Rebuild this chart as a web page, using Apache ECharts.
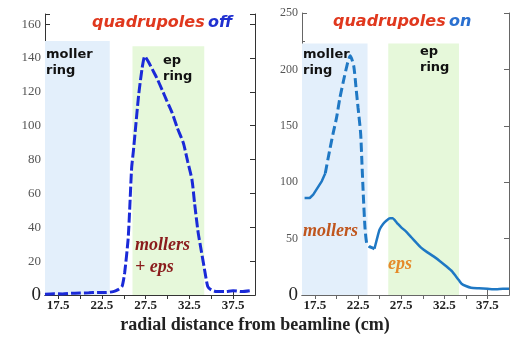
<!DOCTYPE html>
<html>
<head>
<meta charset="utf-8">
<script src="https://cdn.jsdelivr.net/npm/echarts@6/dist/echarts.min.js"></script>
<style>
  html, body { margin: 0; padding: 0; background: #fff; }
  #chart { width: 510px; height: 337px; }
</style>
</head>
<body>
<div id="chart"></div>
<script>
// x tick labels (cm) shared by both panels
const xTicks = [17.5, 22.5, 27.5, 32.5, 37.5];

// left panel: quadrupoles off
const offX = [16, 17, 18, 19, 20, 21, 22, 23, 23.8, 24.3, 24.8, 25.1, 25.5, 25.7, 25.9, 26.1, 26.3, 26.7, 27.1, 27.4, 27.8, 28.3, 28.8, 29.4, 29.9, 30.5, 31.1, 31.8, 32.3, 32.8, 33.1, 33.5, 33.9, 34.3, 34.6, 35, 35.6, 36.5, 37.5, 38.5, 39.4];
const offY = [0.5, 0.8, 0.6, 1, 1.2, 1.3, 1.5, 1.5, 2, 3, 5, 13, 33, 53, 75, 85, 96, 118, 134, 141, 138, 133, 128, 121, 115, 108, 99, 90, 79, 68, 54, 37, 25, 13, 5, 3, 2, 2, 2.5, 2, 2.5];

// right panel: quadrupoles on (split in pieces: solid / dashed / solid)
const onX1 = [16.3, 16.9, 17.3, 17.8, 18.3, 18.7];
const onY1 = [86, 86, 89, 95, 101, 108];
const onX2 = [18.7, 19.2, 19.6, 20.0, 20.4, 20.9, 21.3, 21.6, 22.0, 22.3, 22.5, 22.8, 22.95, 23.1, 23.3, 23.5, 23.8, 24.1, 24.4];
const onY2 = [108, 128, 143, 157, 175, 193, 206, 212, 203, 181, 166, 143, 117, 90, 60, 46, 43, 42, 41];
const onX3 = [24.4, 24.7, 25.0, 25.4, 25.8, 26.2, 26.5, 27.0, 27.5, 28.1, 28.7, 29.3, 29.8, 30.5, 31.3, 32.0, 32.8, 33.4, 33.9, 34.2, 34.5, 35.0, 35.6, 36.5, 37.5, 38.5, 39.3, 40];
const onY3 = [41, 50, 58, 63, 66, 68, 68, 64, 60, 56, 51, 46, 42, 38, 34, 30, 25, 21, 16, 13, 10, 8, 6.5, 6, 5.5, 5, 5.5, 5.5];

// shaded rings [x0, x1, yTop]
const offMoller = [16, 23.4, 150];
const offEp = [26.0, 34.2, 147];
const onMoller = [16, 23.6, 223];
const onEp = [26.0, 34.2, 223];

const zip = (xs, ys) => xs.map((x, i) => [x, ys[i]]);

const serif = 'Liberation Serif';
const sans = 'DejaVu Sans';

function xAxisPair(grid, color) {
  return [
    {
      gridIndex: grid, type: 'value', min: 16, max: 40, position: 'bottom',
      axisLine: { lineStyle: { color: color, width: 1 } },
      splitLine: { show: false },
      axisTick: { inside: true, length: 5, customValues: xTicks, lineStyle: { color: color } },
      axisLabel: {
        customValues: xTicks, margin: 4, color: '#222',
        fontFamily: serif, fontSize: 13, fontWeight: 'bold',
        formatter: v => v.toFixed(1)
      }
    },
    {
      gridIndex: grid, type: 'value', min: 16, max: 40, position: 'top',
      axisLine: { lineStyle: { color: color, width: 1 } },
      splitLine: { show: false },
      axisTick: { inside: true, length: 4, customValues: [17.5, 20, 22.5, 25, 27.5, 30, 32.5, 35, 37.5], lineStyle: { color: color } },
      axisLabel: { show: false }
    }
  ];
}

function yAxisPair(grid, max, interval, color, numSize) {
  return [
    {
      gridIndex: grid, type: 'value', min: 0, max: max, interval: interval, position: 'left',
      axisLine: { show: true, lineStyle: { color: color, width: 1 } },
      splitLine: { show: false },
      axisTick: { show: true, inside: true, length: 5, lineStyle: { color: color } },
      minorTick: { show: true, splitNumber: 2, length: 3, lineStyle: { color: color } },
      axisLabel: {
        margin: 4, showMaxLabel: max % interval === 0,
        formatter: v => v === 0 ? '{z|0}' : '{n|' + v + '}',
        rich: {
          n: { fontFamily: serif, fontSize: numSize, color: '#555' },
          z: { fontFamily: serif, fontSize: 19, color: '#222' }
        }
      }
    },
    {
      gridIndex: grid, type: 'value', min: 0, max: max, interval: interval, position: 'right',
      axisLine: { show: true, lineStyle: { color: color, width: 1 } },
      splitLine: { show: false },
      axisTick: { show: true, inside: true, length: 5, lineStyle: { color: color } },
      axisLabel: { show: false }
    }
  ];
}

function ringArea(r, color) {
  return [{ xAxis: r[0], yAxis: 0, itemStyle: { color: color } }, { xAxis: r[1], yAxis: r[2] }];
}

const chart = echarts.init(document.getElementById('chart'), null, { renderer: 'canvas' });

chart.setOption({
  backgroundColor: '#fff',
  animation: false,
  grid: [
    { left: 45, top: 14, width: 210, height: 281 },
    { left: 302, top: 13, right: 1, height: 282 }
  ],
  xAxis: [...xAxisPair(0, '#333'), ...xAxisPair(1, '#666')],
  yAxis: [...yAxisPair(0, 166, 20, '#333', 13), ...yAxisPair(1, 250, 50, '#666', 12)],
  series: [
    {
      name: 'off', type: 'line', xAxisIndex: 0, yAxisIndex: 0,
      data: zip(offX, offY), showSymbol: false, smooth: 0.2,
      lineStyle: { color: '#1a2ad8', width: 3, type: [10, 3] },
      markArea: {
        silent: true,
        data: [ringArea(offMoller, '#e3effb'), ringArea(offEp, '#e6f8da')]
      },
      z: 5
    },
    {
      name: 'on1', type: 'line', xAxisIndex: 2, yAxisIndex: 2,
      data: zip(onX1, onY1), showSymbol: false,
      lineStyle: { color: '#1f78c4', width: 2.5 },
      markArea: {
        silent: true,
        data: [ringArea(onMoller, '#e3effb'), ringArea(onEp, '#e6f8da')]
      },
      z: 5
    },
    {
      name: 'on2', type: 'line', xAxisIndex: 2, yAxisIndex: 2,
      data: zip(onX2, onY2), showSymbol: false, smooth: 0.2,
      lineStyle: { color: '#1f78c4', width: 3, type: [9, 4] },
      z: 5
    },
    {
      name: 'on3', type: 'line', xAxisIndex: 2, yAxisIndex: 2,
      data: zip(onX3, onY3), showSymbol: false, smooth: 0.2,
      lineStyle: { color: '#1f78c4', width: 2.5 },
      z: 5
    }
  ],
  graphic: [
    // panel titles
    { type: 'text', left: 92, top: 15, z: 10, style: {
      text: '{r|quadrupoles} {b|off}',
      rich: {
        r: { fontFamily: sans, fontSize: 16, fontStyle: 'italic', fontWeight: 'bold', fill: '#e0381e' },
        b: { fontFamily: sans, fontSize: 16, fontStyle: 'italic', fontWeight: 'bold', fill: '#2030d0' }
      } } },
    { type: 'text', left: 333, top: 14, z: 10, style: {
      text: '{r|quadrupoles} {b|on}',
      rich: {
        r: { fontFamily: sans, fontSize: 16, fontStyle: 'italic', fontWeight: 'bold', fill: '#e0381e' },
        b: { fontFamily: sans, fontSize: 16, fontStyle: 'italic', fontWeight: 'bold', fill: '#2a70d0' }
      } } },
    // ring labels
    { type: 'text', left: 46, top: 47, z: 10, style: { text: 'moller\nring', fontFamily: sans, fontWeight: 'bold', fontSize: 13, lineHeight: 16, fill: '#111' } },
    { type: 'text', left: 163, top: 53, z: 10, style: { text: 'ep\nring', fontFamily: sans, fontWeight: 'bold', fontSize: 13, lineHeight: 16, fill: '#111' } },
    { type: 'text', left: 303, top: 47, z: 10, style: { text: 'moller\nring', fontFamily: sans, fontWeight: 'bold', fontSize: 13, lineHeight: 16, fill: '#111' } },
    { type: 'text', left: 420, top: 44, z: 10, style: { text: 'ep\nring', fontFamily: sans, fontWeight: 'bold', fontSize: 13, lineHeight: 16, fill: '#111' } },
    // population labels
    { type: 'text', left: 135, top: 234, z: 10, style: { text: 'mollers\n+ eps', fontFamily: serif, fontStyle: 'italic', fontWeight: 'bold', fontSize: 18, lineHeight: 22, fill: '#8a1c1c' } },
    { type: 'text', left: 303, top: 222, z: 10, style: { text: 'mollers', fontFamily: serif, fontStyle: 'italic', fontWeight: 'bold', fontSize: 18, fill: '#c0561e' } },
    { type: 'text', left: 388, top: 255, z: 10, style: { text: 'eps', fontFamily: serif, fontStyle: 'italic', fontWeight: 'bold', fontSize: 18, fill: '#e58a2a' } },
    // shared x title
    { type: 'text', left: 'center', top: 316, z: 10, style: { text: 'radial distance from beamline (cm)', fontFamily: serif, fontWeight: 'bold', fontSize: 18, fill: '#222' } }
  ]
});
</script>
</body>
</html>
